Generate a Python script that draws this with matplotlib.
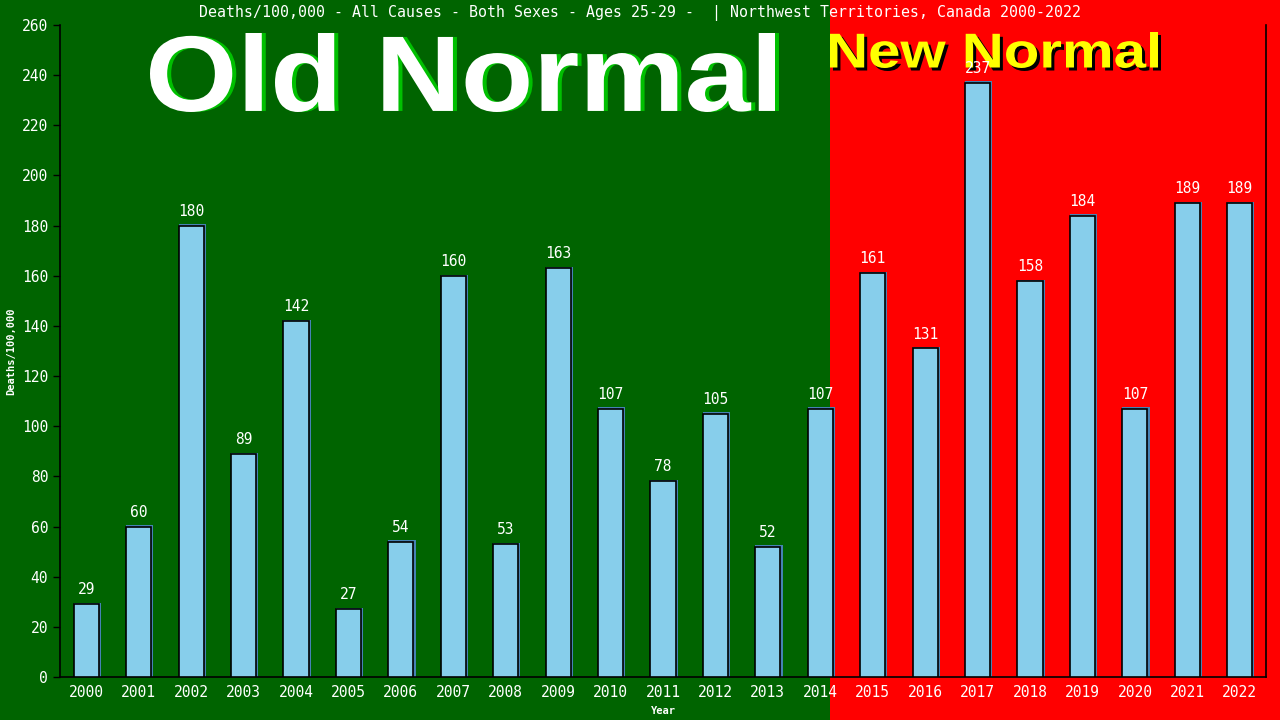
import matplotlib
matplotlib.use("Agg")
import matplotlib.pyplot as plt
from matplotlib.patches import Rectangle, PathPatch
from matplotlib.textpath import TextPath
from matplotlib.font_manager import FontProperties
from matplotlib.transforms import Affine2D

years = [str(y) for y in range(2000, 2023)]
values = [29, 60, 180, 89, 142, 27, 54, 160, 53, 163, 107, 78, 105, 52, 107,
          161, 131, 237, 158, 184, 107, 189, 189]
yticks = list(range(0, 261, 20))
title = "Deaths/100,000 - All Causes - Both Sexes - Ages 25-29 -  | Northwest Territories, Canada 2000-2022"

W, H = 1280, 720
fig = plt.figure(figsize=(W / 100, H / 100), dpi=100)
fig.patch.set_facecolor("#006400")

bg = fig.add_axes([0, 0, 1, 1], zorder=-5)
bg.set_xlim(0, W)
bg.set_ylim(0, H)
bg.axis("off")
bg.add_patch(Rectangle((0, 0), 830, H, facecolor="#006400", edgecolor="none"))
bg.add_patch(Rectangle((830, 0), W - 830, H, facecolor="#ff0000", edgecolor="none"))

ax = fig.add_axes([60 / W, 1 - 677 / H, (1266 - 60) / W, (677 - 25) / H], zorder=1)
ax.patch.set_alpha(0)

mono = "DejaVu Sans Mono"
x = list(range(len(years)))
ax.bar([i + 0.02 for i in x], [v + 0.5 for v in values], width=0.52,
       color="#4682b4", edgecolor="none", zorder=2)
ax.bar(x, values, width=0.48, color="#87ceeb", edgecolor="black", linewidth=1.2, zorder=3)
for i, v in zip(x, values):
    ax.annotate(str(v), (i, v), xytext=(0, 5), textcoords="offset points",
                ha="center", va="bottom", color="white", fontsize=10.5,
                family=mono, zorder=4)

ax.set_xlim(-0.5, len(years) - 0.5)
ax.set_ylim(0, 260)
ax.set_yticks(yticks)
ax.set_xticks(x)
ax.set_xticklabels(years)
ax.tick_params(axis="both", colors="black", labelcolor="white", labelsize=10.5,
               length=5, width=1)
ax.tick_params(axis="x", length=0, pad=6)
for lab in ax.get_xticklabels() + ax.get_yticklabels():
    lab.set_family(mono)
for s in ["left", "bottom", "right"]:
    ax.spines[s].set_color("black")
    ax.spines[s].set_linewidth(1.2)
ax.spines["top"].set_visible(False)

ax.set_xlabel("Year", color="white", fontsize=7.5, family=mono, fontweight="bold", labelpad=4)
ax.set_ylabel("Deaths/100,000", color="white", fontsize=7.5, family=mono,
              fontweight="bold", labelpad=4)

fig.text(0.5, 1 - 13 / H, title, ha="center", va="center", color="white",
         fontsize=10.7, family=mono)


def fitted_text(txt, x0, x1, ytop, ybot, color, shadow, dx, dy):
    fp = FontProperties(family="Liberation Sans", weight="bold")
    tp = TextPath((0, 0), txt, size=100, prop=fp)
    ext = tp.get_extents()
    sx = (x1 - x0) / ext.width
    sy = (ybot - ytop) / ext.height
    base_y = H - ybot
    for col, ox, oy in ((shadow, dx, dy), (color, 0, 0)):
        tr = (Affine2D().translate(-ext.x0, -ext.y0).scale(sx, sy)
              .translate(x0 + ox, base_y + oy) + bg.transData)
        bg.add_patch(PathPatch(tp, transform=tr, facecolor=col, edgecolor="none"))


fitted_text("Old Normal", 150, 775, 33, 112, "white", "#00c000", 4, 0)
fitted_text("New Normal", 830, 1158, 32, 68, "#ffff00", "black", 3, -3)

fig.savefig("out.png", dpi=100, facecolor=fig.get_facecolor())
